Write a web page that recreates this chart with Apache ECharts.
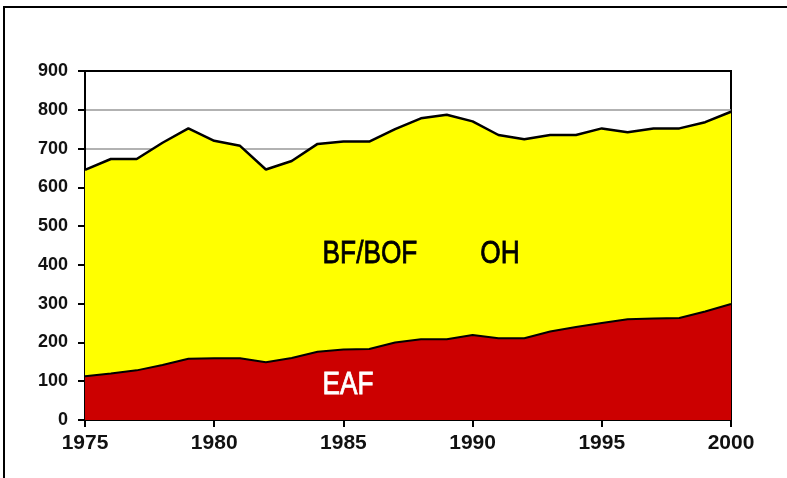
<!DOCTYPE html>
<html>
<head>
<meta charset="utf-8">
<script src="https://cdn.jsdelivr.net/npm/echarts@6/dist/echarts.min.js"></script>
<style>
  html, body { margin: 0; padding: 0; background: #fff; }
  #frame {
    position: absolute; left: 3px; top: 6px; width: 900px; height: 600px;
    border-left: 2px solid #000; border-top: 2px solid #000;
  }
  #chart { position: absolute; left: 0; top: 0; width: 787px; height: 478px; }
</style>
</head>
<body>
<div id="frame"></div>
<div id="chart"></div>
<script>
// years on the x axis
const years = [1975, 1976, 1977, 1978, 1979, 1980, 1981, 1982, 1983, 1984, 1985, 1986, 1987,
  1988, 1989, 1990, 1991, 1992, 1993, 1994, 1995, 1996, 1997, 1998, 1999, 2000]
// total production (top of yellow area)
const totalValues = [645, 673, 673, 715, 752, 720, 707, 646, 668, 712, 718, 718, 750,
  778, 787, 770, 735, 724, 735, 735, 752, 742, 752, 752, 768, 795]
// EAF (red area)
const eafValues = [113, 120, 128, 142, 158, 159, 159, 149, 160, 176, 182, 183, 200,
  208, 208, 219, 211, 211, 228, 240, 250, 260, 262, 263, 280, 299]
const yTicks = [0, 900, 100]
const xTicks = [1975, 2000, 5]

const font = '"Liberation Sans", Arial, sans-serif'

const chart = echarts.init(document.getElementById('chart'))
const pairs = (vals) => years.map((y, i) => [y, vals[i]])

// area labels (narrow look: squeezed horizontally, a bit heavier)
const areaLabel = (text, x, y, color) => ({
  type: 'text', x, y, z: 10, scaleX: 0.82,
  style: {
    text, fill: color, font: '32px ' + font,
    stroke: color, lineWidth: 0.8,
    align: 'center', verticalAlign: 'middle'
  }
})

chart.setOption({
  animation: false,
  grid: {
    left: 85, right: 56, top: 71, bottom: 58,
    show: true, borderColor: '#000', borderWidth: 2, backgroundColor: 'transparent'
  },
  xAxis: {
    type: 'value',
    min: xTicks[0], max: xTicks[1], interval: xTicks[2],
    axisLine: { lineStyle: { color: '#000', width: 2 } },
    axisTick: { show: true, length: 7, lineStyle: { color: '#000', width: 2 } },
    axisLabel: { color: '#111', fontFamily: font, fontSize: 21, fontWeight: 'bold', margin: 13,
      formatter: v => String(v) },
    splitLine: { show: false }
  },
  yAxis: {
    type: 'value',
    min: yTicks[0], max: yTicks[1], interval: yTicks[2],
    axisLine: { show: true, lineStyle: { color: '#000', width: 2 } },
    axisTick: { show: true, length: 7, lineStyle: { color: '#000', width: 2 } },
    axisLabel: { color: '#111', fontFamily: font, fontSize: 18, fontWeight: 'bold', margin: 17 },
    splitLine: { show: true, showMaxLine: false, lineStyle: { color: '#999', width: 1.5 } }
  },
  series: [
    {
      name: 'BF/BOF',
      type: 'line',
      data: pairs(totalValues),
      symbol: 'none',
      lineStyle: { color: '#000', width: 2.5 },
      areaStyle: { color: '#ffff00', opacity: 1 },
      z: 2
    },
    {
      name: 'EAF',
      type: 'line',
      data: pairs(eafValues),
      symbol: 'none',
      lineStyle: { color: '#000', width: 2 },
      areaStyle: { color: '#cc0000', opacity: 1 },
      z: 3
    }
  ],
  graphic: [
    areaLabel('BF/BOF', 370, 254, '#000'),
    areaLabel('OH', 500, 254, '#000'),
    areaLabel('EAF', 348, 385, '#fff')
  ]
})
</script>
</body>
</html>
